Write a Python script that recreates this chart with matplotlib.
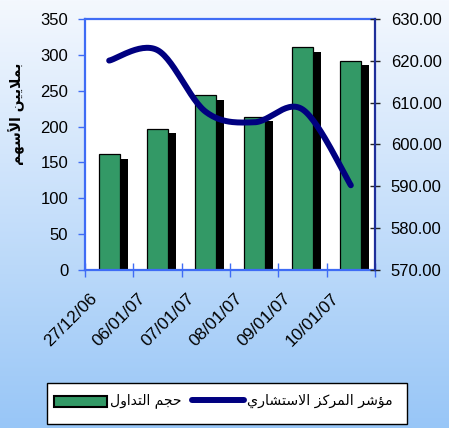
import numpy as np
import matplotlib
matplotlib.use("Agg")
import matplotlib.pyplot as plt
import matplotlib.transforms as mtransforms
from matplotlib.patches import Rectangle
from matplotlib.lines import Line2D

# ---------------- data ----------------
dates = ['27/12/06', '06/01/07', '07/01/07', '08/01/07', '09/01/07', '10/01/07']
volume = [161, 197, 244, 214, 311, 292]
index_vals = [620.1, 622.6, 607.8, 605.3, 608.4, 590.2]
left_ticks = [0, 50, 100, 150, 200, 250, 300, 350]
right_ticks = [570, 580, 590, 600, 610, 620, 630]
ylabel_text = 'بملايين الأسهم'
legend_labels = ['حجم التداول', 'مؤشر المركز الاستشاري']

# ------------- minimal Arabic shaping (presentation forms, visual order) -------------
FORMS = {
    'ا': ('\uFE8D', '\uFE8E', None, None),
    'أ': ('\uFE83', '\uFE84', None, None),
    'ب': ('\uFE8F', '\uFE90', '\uFE91', '\uFE92'),
    'ت': ('\uFE95', '\uFE96', '\uFE97', '\uFE98'),
    'ج': ('\uFE9D', '\uFE9E', '\uFE9F', '\uFEA0'),
    'ح': ('\uFEA1', '\uFEA2', '\uFEA3', '\uFEA4'),
    'د': ('\uFEA9', '\uFEAA', None, None),
    'ر': ('\uFEAD', '\uFEAE', None, None),
    'ز': ('\uFEAF', '\uFEB0', None, None),
    'س': ('\uFEB1', '\uFEB2', '\uFEB3', '\uFEB4'),
    'ش': ('\uFEB5', '\uFEB6', '\uFEB7', '\uFEB8'),
    'ك': ('\uFED9', '\uFEDA', '\uFEDB', '\uFEDC'),
    'ل': ('\uFEDD', '\uFEDE', '\uFEDF', '\uFEE0'),
    'م': ('\uFEE1', '\uFEE2', '\uFEE3', '\uFEE4'),
    'ن': ('\uFEE5', '\uFEE6', '\uFEE7', '\uFEE8'),
    'ه': ('\uFEE9', '\uFEEA', '\uFEEB', '\uFEEC'),
    'و': ('\uFEED', '\uFEEE', None, None),
    'ؤ': ('\uFE85', '\uFE86', None, None),
    'ي': ('\uFEF1', '\uFEF2', '\uFEF3', '\uFEF4'),
    'LA': ('\uFEFB', '\uFEFC', None, None),
    'LAH': ('\uFEF7', '\uFEF8', None, None),
}


def shape(s):
    toks = []
    i = 0
    while i < len(s):
        c = s[i]
        if c == 'ل' and i + 1 < len(s) and s[i + 1] in 'اأ':
            toks.append('LA' if s[i + 1] == 'ا' else 'LAH')
            i += 2
        else:
            toks.append(c)
            i += 1
    dual = lambda t: t in FORMS and FORMS[t][2] is not None
    out = []
    for k, t in enumerate(toks):
        if t not in FORMS:
            out.append(t)
            continue
        pj = k > 0 and dual(toks[k - 1])
        nj = dual(t) and k + 1 < len(toks) and toks[k + 1] in FORMS
        f = FORMS[t]
        if pj and nj:
            out.append(f[3])
        elif pj:
            out.append(f[1])
        elif nj:
            out.append(f[2])
        else:
            out.append(f[0])
    return ''.join(reversed(out))


def smooth(xs, ys, n=30):
    xs = np.asarray(xs, float)
    ys = np.asarray(ys, float)
    px = np.concatenate([[xs[0]], xs, [xs[-1]]])
    py = np.concatenate([[ys[0]], ys, [ys[-1]]])
    ox, oy = [], []
    t = np.linspace(0, 1, n)
    for i in range(1, len(px) - 2):
        p0x, p1x, p2x, p3x = px[i - 1:i + 3]
        p0y, p1y, p2y, p3y = py[i - 1:i + 3]
        m1x, m2x = (p2x - p0x) / 2, (p3x - p1x) / 2
        m1y, m2y = (p2y - p0y) / 2, (p3y - p1y) / 2
        h00 = 2 * t**3 - 3 * t**2 + 1
        h10 = t**3 - 2 * t**2 + t
        h01 = -2 * t**3 + 3 * t**2
        h11 = t**3 - t**2
        ox.append(h00 * p1x + h10 * m1x + h01 * p2x + h11 * m2x)
        oy.append(h00 * p1y + h10 * m1y + h01 * p2y + h11 * m2y)
    return np.concatenate(ox), np.concatenate(oy)


# ---------------- figure ----------------
W, H = 449, 428
fig = plt.figure(figsize=(W / 100, H / 100), dpi=100)
plt.rcParams['font.family'] = ['Liberation Sans', 'DejaVu Sans']

bg = fig.add_axes([0, 0, 1, 1], zorder=-10)
top_c = np.array([0xf4, 0xf8, 0xfe]) / 255
bot_c = np.array([0x98, 0xc6, 0xf7]) / 255
g = np.linspace(0, 1, 256)[:, None]
grad = top_c[None, :] * (1 - g) + bot_c[None, :] * g
bg.imshow(grad[:, None, :], aspect='auto', extent=[0, 1, 0, 1])
bg.set_axis_off()

def fx(px):
    return px / W

def fy(py):
    return 1 - py / H

ax = fig.add_axes([fx(85), fy(269.5), fx(375) - fx(85), fy(19.3) - fy(269.5)])
ax.set_facecolor('white')
x = np.arange(len(dates))
bw = 0.435
dx_shadow = 8 / 48.3
dy_shadow = 6.5
ax.bar(x + dx_shadow, np.array(volume) - dy_shadow, width=bw, color='black', zorder=1)
ax.bar(x, volume, width=bw, color='#339966', edgecolor='black', linewidth=0.9, zorder=2)
ax.set_xlim(-0.5, len(dates) - 0.5)
ax.set_ylim(0, 350)
ax.set_yticks(left_ticks)
ax.set_yticklabels([str(v) for v in left_ticks], fontsize=12)
blue = '#3f6cf5'
ax.tick_params(axis='y', direction='out', length=5, width=1, color=blue, pad=7)
ax.set_xticks(x)
ax.set_xticklabels(dates, rotation=45, ha='right', va='top', fontsize=12.5)
ax.set_xticks(np.arange(-0.5, len(dates)), minor=True)
ax.tick_params(axis='x', which='major', length=0, pad=13)
ax.tick_params(axis='x', which='minor', direction='inout', length=9.4, width=1, color=blue)
shift = mtransforms.ScaledTranslation(-0.09, -0.03, fig.dpi_scale_trans)
for lbl in ax.get_xticklabels():
    lbl.set_transform(lbl.get_transform() + shift)
for s in ['left', 'bottom', 'top']:
    ax.spines[s].set_color(blue)
    ax.spines[s].set_linewidth(1.6)
ax.spines['right'].set_visible(False)

ax2 = ax.twinx()
sx, sy = smooth(x, index_vals)
ax2.plot(sx, sy, color='#000080', lw=4.3, solid_capstyle='round', zorder=3)
ax2.set_ylim(570, 630)
ax2.set_yticks(right_ticks)
ax2.set_yticklabels(['%.2f' % v for v in right_ticks], fontsize=12)
ax2.tick_params(axis='y', direction='inout', length=7.2, width=1, color='#222222', pad=7.7)
for s in ['left', 'bottom', 'top']:
    ax2.spines[s].set_visible(False)
ax2.spines['right'].set_color('#1f2f9a')
ax2.spines['right'].set_linewidth(1.6)

fig.text(fx(17), fy(114), shape(ylabel_text), rotation=90, ha='center', va='center',
         fontsize=10, fontweight='bold', family=['DejaVu Sans'])

# ---------------- legend (drawn manually) ----------------
fig.add_artist(Rectangle((fx(46.7), fy(424)), fx(406.7) - fx(46.7), fy(383) - fy(424),
                         transform=fig.transFigure, facecolor='white', edgecolor='black', lw=1))
fig.add_artist(Rectangle((fx(54), fy(407)), fx(107) - fx(54), fy(396) - fy(407),
                         transform=fig.transFigure, facecolor='#339966', edgecolor='black', lw=1.5))
fig.text(fx(110), fy(401), shape(legend_labels[0]), ha='left', va='center', fontsize=10,
         family=['DejaVu Sans'])
fig.add_artist(Line2D([fx(192), fx(244)], [fy(399.5), fy(399.5)], transform=fig.transFigure,
                      color='#000080', lw=4.3, solid_capstyle='round'))
fig.text(fx(247), fy(401), shape(legend_labels[1]), ha='left', va='center', fontsize=10.2,
         family=['DejaVu Sans'])

fig.savefig('out.png', dpi=100)
